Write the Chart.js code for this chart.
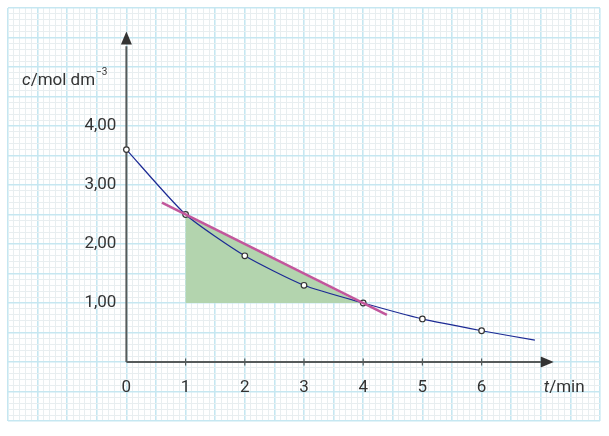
<!DOCTYPE html>
<html>
<head>
<meta charset="utf-8">
<script src="https://cdn.jsdelivr.net/npm/chart.js@4"></script>
<style>
  html, body { margin: 0; padding: 0; background: #fff; }
  #wrap { width: 609px; height: 436px; }
</style>
</head>
<body>
<div id="wrap"><canvas id="chart"></canvas></div>
<script>
// Data
const times = [0, 1, 2, 3, 4, 5, 6, 6.9];
const conc = [3.6, 2.5, 1.8, 1.3, 1.0, 0.73, 0.53, 0.37];
const markedTimes = [0, 1, 2, 3, 4, 5, 6];
const tangentT = [0.6, 4.4];
const tangentC = [2.7, 0.8];
const triangleT = [1, 1, 3.95];
const triangleC = [2.5, 1.0, 1.0];
const xTickLabels = ['0', '1', '2', '3', '4', '5', '6'];
const yTickValues = [1, 2, 3, 4];
const yTickLabels = ['1,00', '2,00', '3,00', '4,00'];

const FONT = 'Roboto, "Noto Sans", sans-serif';
const AXIS = '#555a5a';

function isMajor(v) {
  return Math.round(v * 10) % 5 === 0;
}

// triangle, axes, arrows and labels, placed through the chart scales
const axesPlugin = {
  id: 'axes',
  beforeDatasetsDraw(chart) {
    const { ctx, scales: { x, y } } = chart;
    const x0 = x.getPixelForValue(0), y0 = y.getPixelForValue(0);
    ctx.save();
    // green triangle under the tangent
    ctx.fillStyle = '#b3d4ae';
    ctx.beginPath();
    triangleT.forEach((t, i) => {
      const px = x.getPixelForValue(t), py = y.getPixelForValue(triangleC[i]);
      if (i === 0) ctx.moveTo(px, py); else ctx.lineTo(px, py);
    });
    ctx.closePath();
    ctx.fill();

    ctx.strokeStyle = AXIS;
    ctx.fillStyle = '#333';
    ctx.lineWidth = 2;
    ctx.beginPath();
    ctx.moveTo(x0, y0);
    ctx.lineTo(x0, y.getPixelForValue(5.35));
    ctx.moveTo(x0, y0);
    ctx.lineTo(x.getPixelForValue(7.0), y0);
    ctx.stroke();
    // arrows
    const ay = y.getPixelForValue(5.5);
    ctx.beginPath();
    ctx.moveTo(x0, ay - 6);
    ctx.lineTo(x0 - 5.5, ay + 7);
    ctx.lineTo(x0 + 5.5, ay + 7);
    ctx.closePath();
    ctx.fill();
    const ax = x.getPixelForValue(7.1);
    ctx.beginPath();
    ctx.moveTo(ax + 7, y0);
    ctx.lineTo(ax - 6, y0 - 5.5);
    ctx.lineTo(ax - 6, y0 + 5.5);
    ctx.closePath();
    ctx.fill();
    // x ticks
    ctx.lineWidth = 1.2;
    ctx.beginPath();
    for (let i = 1; i < xTickLabels.length; i++) {
      const px = x.getPixelForValue(i);
      ctx.moveTo(px, y0 - 3.5);
      ctx.lineTo(px, y0 + 3.5);
    }
    ctx.stroke();
    // labels
    ctx.fillStyle = '#333';
    ctx.font = '17px ' + FONT;
    ctx.textAlign = 'center';
    ctx.textBaseline = 'middle';
    xTickLabels.forEach((l, i) => ctx.fillText(l, x.getPixelForValue(i), y0 + 26));
    ctx.textAlign = 'right';
    yTickLabels.forEach((l, i) => ctx.fillText(l, x0 - 10, y.getPixelForValue(yTickValues[i])));
    // axis titles
    ctx.textAlign = 'left';
    let tx = 22, ty = y.getPixelForValue(4.77);
    ctx.font = 'italic 17px ' + FONT;
    ctx.fillText('c', tx, ty);
    tx += ctx.measureText('c').width;
    ctx.font = '17px ' + FONT;
    ctx.fillText('/mol dm', tx, ty);
    tx += ctx.measureText('/mol dm').width + 1;
    ctx.font = '10px ' + FONT;
    ctx.fillText('\u22123', tx, ty - 8);
    tx = x.getPixelForValue(7.05);
    ty = y0 + 26;
    ctx.font = 'italic 17px ' + FONT;
    ctx.fillText('t', tx, ty);
    tx += ctx.measureText('t').width;
    ctx.font = '17px ' + FONT;
    ctx.fillText('/min', tx, ty);
    ctx.restore();
  }
};

const curveData = times.map((t, i) => ({ x: t, y: conc[i] }));
const pointRadii = times.map(t => markedTimes.includes(t) ? 2.8 : 0);

const gridOpts = {
  drawTicks: false,
  color: (c) => isMajor(c.tick.value) ? '#c6e7f1' : '#e8eef0',
  lineWidth: (c) => isMajor(c.tick.value) ? 1.6 : 1
};

new Chart(document.getElementById('chart'), {
  type: 'scatter',
  data: {
    datasets: [
      {
        label: 'tangent',
        data: tangentT.map((t, i) => ({ x: t, y: tangentC[i] })),
        showLine: true,
        borderColor: '#c2579c',
        borderWidth: 2.5,
        pointRadius: 0
      },
      {
        label: 'c',
        data: curveData,
        showLine: true,
        borderColor: '#1c2a94',
        borderWidth: 1.2,
        tension: 0.2,
        pointRadius: pointRadii,
        pointBackgroundColor: '#fff',
        pointBorderColor: '#333',
        pointBorderWidth: 1.2
      }
    ]
  },
  options: {
    responsive: true,
    maintainAspectRatio: false,
    animation: false,
    layout: { padding: { left: 8, right: 9, top: 8, bottom: 15 } },
    plugins: { legend: { display: false }, tooltip: { enabled: false } },
    scales: {
      x: {
        type: 'linear', min: -2, max: 8,
        border: { display: false },
        ticks: { display: false, autoSkip: false },
        grid: gridOpts,
        afterBuildTicks: (s) => { s.ticks = []; for (let i = -20; i <= 80; i++) s.ticks.push({ value: i / 10 }); }
      },
      y: {
        type: 'linear', min: -1, max: 6,
        border: { display: false },
        ticks: { display: false, autoSkip: false },
        grid: gridOpts,
        afterBuildTicks: (s) => { s.ticks = []; for (let i = -10; i <= 60; i++) s.ticks.push({ value: i / 10 }); }
      }
    }
  },
  plugins: [axesPlugin]
});
</script>
</body>
</html>
